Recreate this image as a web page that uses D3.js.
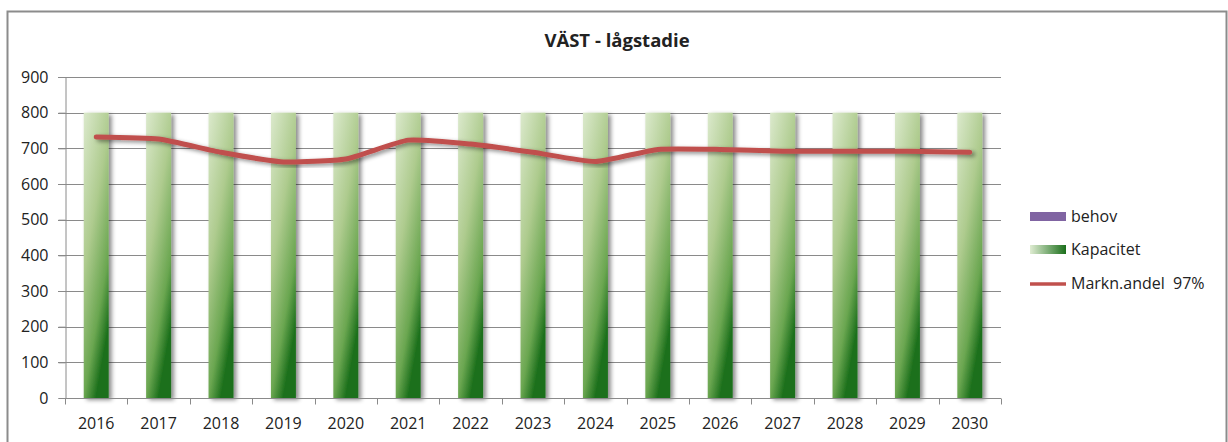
<!DOCTYPE html>
<html>
<head>
<meta charset="utf-8">
<script src="https://cdn.jsdelivr.net/npm/d3@7"></script>
<style>
  body { margin: 0; background: #fff; }
  text { font-family: "Open Sans", "Liberation Sans", sans-serif; fill: #222; }
</style>
</head>
<body>
<script>
var width = 1228, height = 442;

// chart data
var years = ["2016","2017","2018","2019","2020","2021","2022","2023","2024","2025","2026","2027","2028","2029","2030"];
var kapacitet = [800,800,800,800,800,800,800,800,800,800,800,800,800,800,800];
var behov = [0,0,0,0,0,0,0,0,0,0,0,0,0,0,0];
var marknandel = [732,726,689,662,670,723,712,689,663,697,697,692,692,692,689];
var yTicks = [0,100,200,300,400,500,600,700,800,900];

var margin = {left: 65, right: 227, top: 77, bottom: 44};

var svg = d3.select("body").append("svg")
    .attr("width", width)
    .attr("height", height);

var defs = svg.append("defs");

// bar gradient, light top-left to dark green bottom-right
var grad = defs.append("linearGradient").attr("id", "barGrad")
    .attr("x1", 0).attr("y1", 0).attr("x2", 0.5).attr("y2", 1);
grad.append("stop").attr("offset", "0%").attr("stop-color", "#dbe9cc");
grad.append("stop").attr("offset", "45%").attr("stop-color", "#aecb8e");
grad.append("stop").attr("offset", "80%").attr("stop-color", "#6aa650");
grad.append("stop").attr("offset", "100%").attr("stop-color", "#1b6f1b");

var legGrad = defs.append("linearGradient").attr("id", "legGrad")
    .attr("x1", 0).attr("y1", 0).attr("x2", 1).attr("y2", 0);
legGrad.append("stop").attr("offset", "0%").attr("stop-color", "#dfecd2");
legGrad.append("stop").attr("offset", "100%").attr("stop-color", "#1b6f1b");

var shadow = defs.append("filter").attr("id", "shadow")
    .attr("x", "-20%").attr("y", "-20%").attr("width", "160%").attr("height", "140%");
shadow.append("feDropShadow").attr("dx", 3).attr("dy", 2)
    .attr("stdDeviation", 2).attr("flood-color", "#000").attr("flood-opacity", 0.45);

// outer chart border
svg.append("rect")
    .attr("x", 7.5).attr("y", 11.5)
    .attr("width", 1219).attr("height", 440)
    .attr("fill", "#fff").attr("stroke", "#8c8c8c").attr("stroke-width", 2);

var x = d3.scaleBand()
    .domain(years)
    .range([margin.left, width - margin.right])
    .paddingInner(0.6).paddingOuter(0.3);

var y = d3.scaleLinear()
    .domain([0, 900])
    .range([height - margin.bottom, margin.top]);

// gridlines
svg.append("g")
    .selectAll("line")
    .data(yTicks.filter(d => d > 0))
    .enter().append("line")
    .attr("x1", margin.left - 7).attr("x2", width - margin.right)
    .attr("y1", d => Math.round(y(d)) + 0.5).attr("y2", d => Math.round(y(d)) + 0.5)
    .attr("stroke", "#8a8a8a").attr("stroke-width", 1);

// y axis
var yAxis = svg.append("g")
    .attr("transform", "translate(" + (margin.left + 0.5) + ",0)")
    .call(d3.axisLeft(y).tickValues(yTicks).tickSize(7).tickPadding(10));
yAxis.select(".domain").attr("stroke", "#8a8a8a");
yAxis.selectAll(".tick line").attr("stroke", "#8a8a8a");
yAxis.selectAll("text").attr("font-size", 16).attr("fill", "#222")
    .attr("font-family", "'Open Sans', sans-serif");

// bars (Kapacitet)
svg.append("g")
    .selectAll("rect")
    .data(years)
    .enter().append("rect")
    .attr("x", d => x(d))
    .attr("y", (d, i) => y(kapacitet[i]))
    .attr("width", x.bandwidth())
    .attr("height", (d, i) => y(0) - y(kapacitet[i]))
    .attr("fill", "url(#barGrad)")
    .attr("filter", "url(#shadow)");

// behov bars (zero height)
svg.append("g")
    .selectAll("rect")
    .data(years)
    .enter().append("rect")
    .attr("x", d => x(d))
    .attr("y", (d, i) => y(behov[i]))
    .attr("width", x.bandwidth())
    .attr("height", (d, i) => y(0) - y(behov[i]))
    .attr("fill", "#8064a2");

// x axis
var step = x.step();
var xAxisG = svg.append("g");
var y0 = Math.round(y(0)) + 0.5;
xAxisG.append("line")
    .attr("x1", margin.left).attr("x2", width - margin.right)
    .attr("y1", y0).attr("y2", y0)
    .attr("stroke", "#8a8a8a");
xAxisG.selectAll("line.tick")
    .data(d3.range(years.length + 1))
    .enter().append("line")
    .attr("class", "tick")
    .attr("x1", i => Math.round(margin.left + i * step) + 0.5)
    .attr("x2", i => Math.round(margin.left + i * step) + 0.5)
    .attr("y1", y0).attr("y2", y0 + 6)
    .attr("stroke", "#8a8a8a");
xAxisG.selectAll("text")
    .data(years)
    .enter().append("text")
    .attr("x", d => x(d) + x.bandwidth() / 2)
    .attr("y", y0 + 30)
    .attr("text-anchor", "middle")
    .attr("font-size", 16)
    .text(d => d);

// Markn.andel line
var line = d3.line()
    .x((d, i) => x(years[i]) + x.bandwidth() / 2)
    .y(d => y(d))
    .curve(d3.curveCardinal.tension(0.5));

svg.append("path")
    .datum(marknandel)
    .attr("d", line)
    .attr("fill", "none")
    .attr("stroke", "#c0504d")
    .attr("stroke-width", 5)
    .attr("stroke-linecap", "round")
    .attr("filter", "url(#shadow)");

// title
svg.append("text")
    .attr("x", 617).attr("y", 47)
    .attr("text-anchor", "middle")
    .attr("font-size", 18.5)
    .attr("font-weight", "bold")
    .text("VÄST - lågstadie");

// legend
var legend = svg.append("g").attr("transform", "translate(1030,0)");
legend.append("rect").attr("x", 0).attr("y", 212).attr("width", 36).attr("height", 9).attr("fill", "#8064a2");
legend.append("text").attr("x", 41).attr("y", 222).attr("font-size", 16).text("behov");
legend.append("rect").attr("x", 0).attr("y", 245).attr("width", 36).attr("height", 9).attr("fill", "url(#legGrad)");
legend.append("text").attr("x", 41).attr("y", 255).attr("font-size", 16).text("Kapacitet");
legend.append("line").attr("x1", 0).attr("x2", 36).attr("y1", 284).attr("y2", 284)
    .attr("stroke", "#c0504d").attr("stroke-width", 3.5);
legend.append("text").attr("x", 41).attr("y", 289).attr("font-size", 16)
    .attr("xml:space", "preserve").text("Markn.andel  97%");
</script>
</body>
</html>
